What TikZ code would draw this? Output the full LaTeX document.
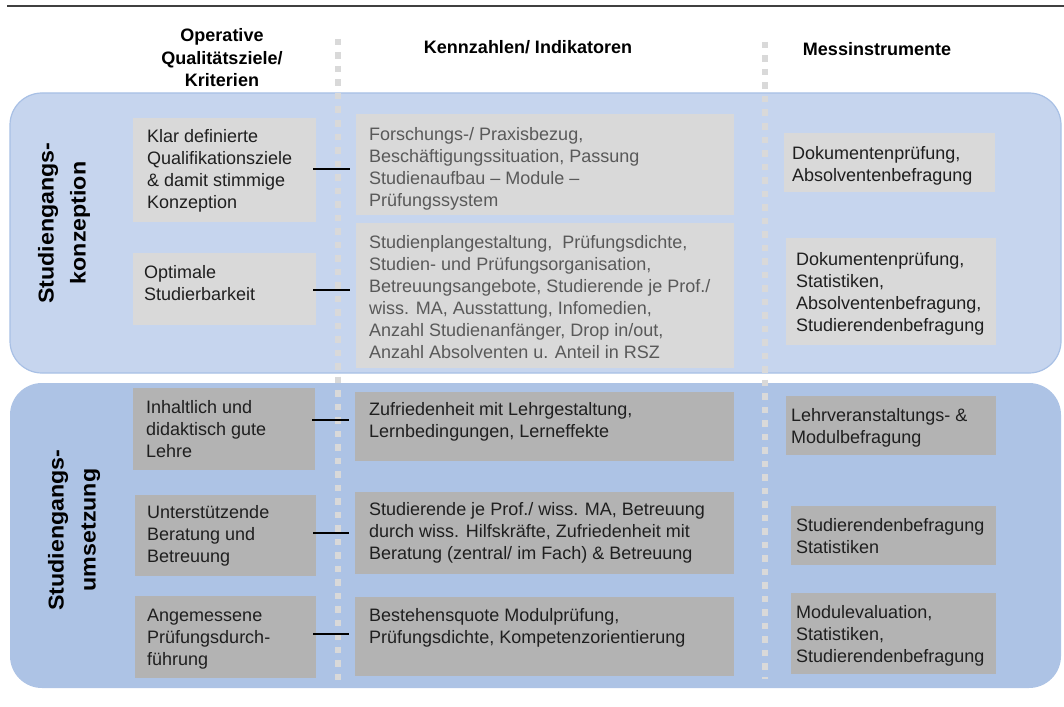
\documentclass[tikz,border=0pt]{standalone}
\usepackage{fontspec}
\setmainfont{Liberation Sans}
\definecolor{panelA}{HTML}{C6D5EE}
\definecolor{panelAline}{HTML}{A8C0E5}
\definecolor{panelB}{HTML}{ADC3E5}
\definecolor{boxlight}{HTML}{D9D9D9}
\definecolor{boxdark}{HTML}{B3B3B3}
\definecolor{dotcol}{HTML}{D9D9D9}
\definecolor{txtdark}{HTML}{1F1F1F}
\definecolor{txtgray}{HTML}{595959}
\definecolor{rulecol}{HTML}{404040}
\newcommand{\wide}[1]{\scalebox{1.08}[1]{#1}}
\tikzset{
  lbox/.style={rectangle, fill=boxlight, draw=none, inner sep=0pt, anchor=north west},
  dbox/.style={rectangle, fill=boxdark, draw=none, inner sep=0pt, anchor=north west},
  txt/.style={font=\fontsize{18}{22.1}\selectfont, align=left, inner sep=0pt, anchor=base west, text=txtdark},
  txtg/.style={txt, text=txtgray},
  head/.style={font=\fontsize{18}{22.5}\selectfont\bfseries, align=center, inner sep=0pt, anchor=base, text=black},
  rotlab/.style={font=\fontsize{21.5}{32}\selectfont\bfseries, align=center, inner sep=0pt, rotate=90, text=black},
  conn/.style={draw=black, line width=1.4pt, shorten <=-3pt, shorten >=6pt},
  dotline/.style={draw=dotcol, line width=6.5pt, dash pattern=on 6.5pt off 7pt},
  panel/.style={rounded corners=32pt}
}
\begin{document}
\begin{tikzpicture}[x=1pt,y=-1pt]
\useasboundingbox (0,0) rectangle (1064,706);
% top rule
\draw[rulecol, line width=1.5pt] (7,6) -- (1064,6);
% panels
\fill[panelA, panel] (10,93) rectangle (1061,373);
\draw[panelAline, line width=1.2pt, panel] (10,93) rectangle (1061,373);
\fill[panelB, panel] (10,383) rectangle (1061,688);
% dotted separators
\draw[dotline] (338,39) -- (338,686);
\draw[dotline] (765,42) -- (765,679);
% headers (base = last line)
\node[head] (h1) at (222,87) {Operative\\Qualitätsziele/\\Kriterien};
\node[head] (h2) at (528,54) {Kennzahlen/ Indikatoren};
\node[head] (h3) at (877,56) {Messinstrumente};
% side labels
\node[rotlab] (s1) at (64,223) {\wide{Studiengangs-}\\\wide{konzeption}};
\node[rotlab] (s2) at (74,530) {\wide{Studiengangs-}\\\wide{umsetzung}};
% ---- top section boxes
\node[lbox, minimum width=183pt, minimum height=104pt] (c1) at (133,118) {};
\node[lbox, minimum width=183pt, minimum height=72pt] (c2) at (133,253) {};
\node[lbox, minimum width=378pt, minimum height=101pt] (k1) at (356,114) {};
\node[lbox, minimum width=378pt, minimum height=145pt] (k2) at (356,223) {};
\node[lbox, minimum width=211pt, minimum height=59pt] (m1) at (784,133) {};
\node[lbox, minimum width=210pt, minimum height=107pt] (m2) at (786,238) {};
% ---- bottom section boxes
\node[dbox, minimum width=182pt, minimum height=81.5pt] (c3) at (133,388) {};
\node[dbox, minimum width=181pt, minimum height=81.5pt] (c4) at (135,494.5) {};
\node[dbox, minimum width=181pt, minimum height=82pt] (c5) at (135,596) {};
\node[dbox, minimum width=379pt, minimum height=69pt] (k3) at (355,391.5) {};
\node[dbox, minimum width=379pt, minimum height=82pt] (k4) at (355,491.5) {};
\node[dbox, minimum width=379pt, minimum height=79pt] (k5) at (355,597) {};
\node[dbox, minimum width=210pt, minimum height=59pt] (m3) at (786,396) {};
\node[dbox, minimum width=205pt, minimum height=59pt] (m4) at (791,506) {};
\node[dbox, minimum width=205pt, minimum height=81pt] (m5) at (791,593) {};
% ---- texts (anchored at the baseline of the last line)
\node[txt] (c1t) at (147,208.3) {Klar definierte\\Qualifikationsziele\\\& damit stimmige\\Konzeption};
\node[txt] (c2t) at (144,300.1) {Optimale\\Studierbarkeit};
\node[txtg] (k1t) at (369,206.3) {Forschungs-/ Praxisbezug,\\Beschäftigungssituation, Passung\\Studienaufbau – Module –\\Prüfungssystem};
\node[txtg] (k2t) at (369,358.5) {Studienplangestaltung,\ \ Prüfungsdichte,\\Studien- und Prüfungsorganisation,\\Betreuungsangebote, Studierende je Prof./\\wiss. MA, Ausstattung, Infomedien,\\Anzahl Studienanfänger, Drop in/out,\\Anzahl Absolventen u. Anteil in RSZ};
\node[txt] (m1t) at (792,181.1) {Dokumentenprüfung,\\Absolventenbefragung};
\node[txt] (m2t) at (796,331.3) {Dokumentenprüfung,\\Statistiken,\\Absolventenbefragung,\\Studierendenbefragung};
\node[txt] (c3t) at (146,457.7) {Inhaltlich und\\didaktisch gute\\Lehre};
\node[txt] (c4t) at (147,562.8) {Unterstützende\\Beratung und\\Betreuung};
\node[txt] (c5t) at (147,665.9) {Angemessene\\Prüfungsdurch-\\führung};
\node[txt] (k3t) at (369,437.1) {Zufriedenheit mit Lehrgestaltung,\\Lernbedingungen, Lerneffekte};
\node[txt] (k4t) at (369,559.2) {Studierende je Prof./ wiss. MA, Betreuung\\durch wiss. Hilfskräfte, Zufriedenheit mit\\Beratung (zentral/ im Fach) \& Betreuung};
\node[txt] (k5t) at (369,643.1) {Bestehensquote Modulprüfung,\\Prüfungsdichte, Kompetenzorientierung};
\node[txt] (m3t) at (791,443.1) {Lehrveranstaltungs- \&\\Modulbefragung};
\node[txt] (m4t) at (796,553.6) {Studierendenbefragung\\Statistiken};
\node[txt] (m5t) at (796,662.2) {Modulevaluation,\\Statistiken,\\Studierendenbefragung};
% ---- connectors
\coordinate (j1) at (0,169);
\coordinate (j2) at (0,290);
\coordinate (j3) at (0,420);
\coordinate (j4) at (0,533);
\coordinate (j5) at (0,634);
\draw[conn] (c1.east |- j1) -- (k1.west |- j1);
\draw[conn] (c2.east |- j2) -- (k2.west |- j2);
\draw[conn] (c3.east |- j3) -- (k3.west |- j3);
\draw[conn] (c4.east |- j4) -- (k4.west |- j4);
\draw[conn] (c5.east |- j5) -- (k5.west |- j5);
\end{tikzpicture}
\end{document}
